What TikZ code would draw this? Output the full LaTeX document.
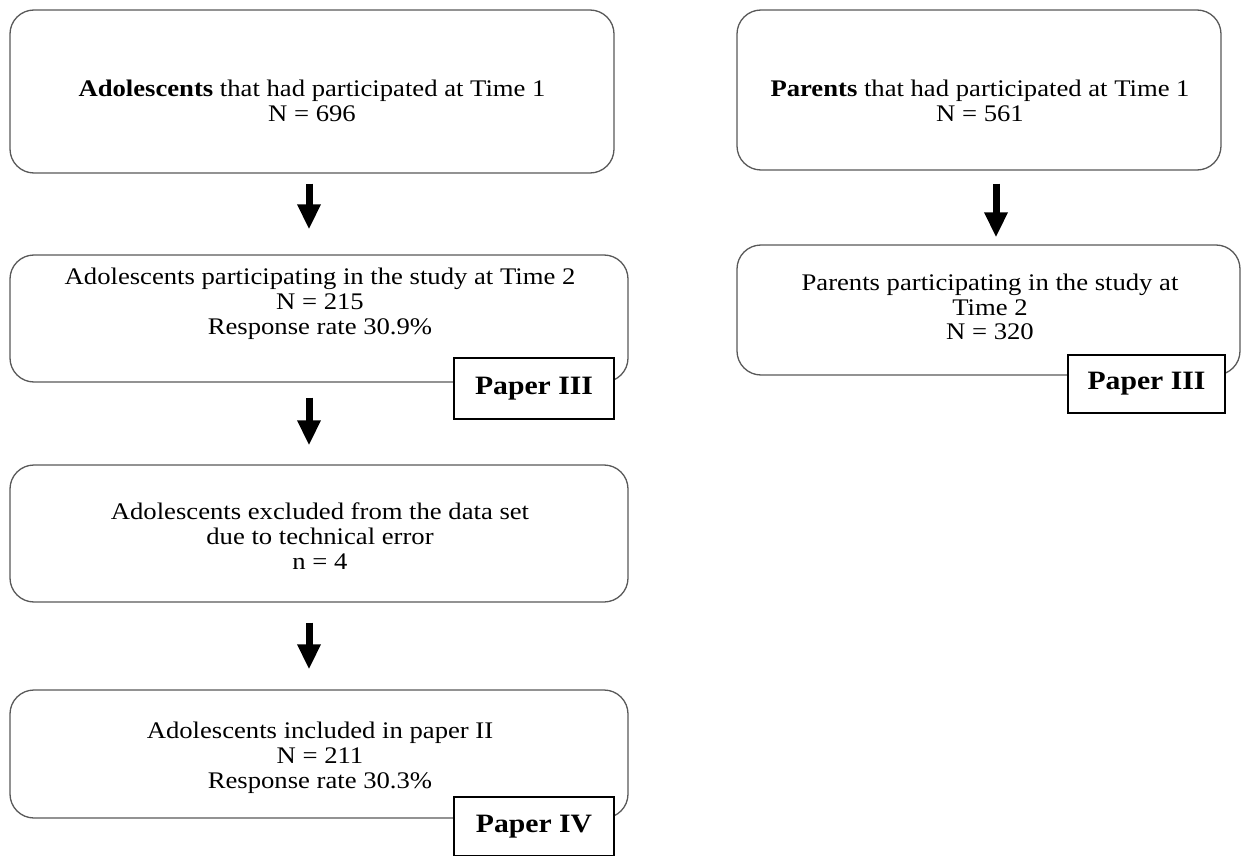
\documentclass[tikz,border=0pt]{standalone}
\usepackage{fontspec}
\setmainfont{Liberation Serif}[FakeStretch=1.12]
\usetikzlibrary{arrows.meta}

\tikzset{
  flowbox/.style={draw=black!65, line width=1.3pt, rounded corners=24pt,
    fill=white, inner sep=0pt, anchor=center},
  flowtext/.style={align=center, inner sep=0pt, anchor=center,
    font=\fontsize{23.8}{24.8}\selectfont},
  paperbox/.style={draw=black, line width=1.8pt, fill=white, inner sep=0pt,
    anchor=center, font=\fontsize{26.5}{28}\selectfont\bfseries},
  bigarrow/.style={line width=7pt, -{Triangle[width=22pt,length=25pt]}}
}

\begin{document}
\begin{tikzpicture}[x=1pt, y=-1pt]
  \useasboundingbox (0,0) rectangle (1251,856);

  % left column: adolescents
  \node[flowbox, minimum width=604pt, minimum height=163pt] (a1) at (312,91.5) {};
  \node[flowtext] (a1t) at (312,101) {\textbf{Adolescents} that had participated at Time 1\\N = 696};

  \node[flowbox, minimum width=618pt, minimum height=127pt] (a2) at (319,318.5) {};
  \node[flowtext] (a2t) at (320,304) {Adolescents participating in the study at Time 2\\N = 215\\Response rate 30.9\%};
  \node[paperbox, minimum width=160pt, minimum height=61pt] (p3a) at (534,388.5) {Paper III};

  \node[flowbox, minimum width=618pt, minimum height=137pt] (a3) at (319,533.5) {};
  \node[flowtext] (a3t) at (320,536) {Adolescents excluded from the data set\\due to technical error\\n = 4};

  \node[flowbox, minimum width=618pt, minimum height=128pt] (a4) at (319,754) {};
  \node[flowtext] (a4t) at (320,758) {Adolescents included in paper II\\N = 211\\Response rate 30.3\%};
  \node[paperbox, minimum width=160pt, minimum height=59pt] (p4) at (534,826.5) {Paper IV};

  % right column: parents
  \node[flowbox, minimum width=484pt, minimum height=160pt] (r1) at (979,90) {};
  \node[flowtext] (r1t) at (980,101) {\textbf{Parents} that had participated at Time 1\\N = 561};

  \node[flowbox, minimum width=503pt, minimum height=130pt] (r2) at (988.5,310) {};
  \node[flowtext] (r2t) at (990,307) {Parents participating in the study at\\Time 2\\N = 320};
  \node[paperbox, minimum width=157pt, minimum height=58pt] (p3b) at (1146.5,384) {Paper III};

  % flow arrows
  \coordinate (ax) at (309,0);
  \coordinate (bx) at (996,0);
  \draw[bigarrow, shorten <=10pt, shorten >=25pt] (a1.south -| ax) -- (a2.north -| ax);
  \draw[bigarrow, shorten <=15pt, shorten >=19pt] (a2.south -| ax) -- (a3.north -| ax);
  \draw[bigarrow, shorten <=20pt, shorten >=20pt] (a3.south -| ax) -- (a4.north -| ax);
  \draw[bigarrow, shorten <=13pt, shorten >=7pt] (r1.south -| bx) -- (r2.north -| bx);
\end{tikzpicture}
\end{document}
